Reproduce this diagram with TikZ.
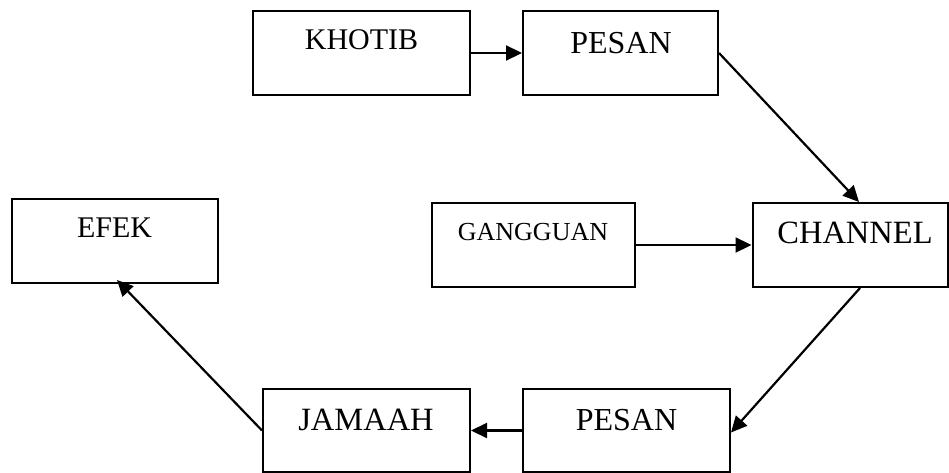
\documentclass[tikz,border=0pt]{standalone}
\usepackage{fontspec}
\setmainfont{Liberation Serif}
\usetikzlibrary{arrows.meta}
\begin{document}
\begin{tikzpicture}[x=1pt,y=-1pt,
  boxnode/.style={draw=black, line width=2pt, rectangle, inner sep=0pt},
  lbl/.style={inner sep=0pt, text=black},
  conn/.style={line width=2.2pt, -{Triangle[length=16pt,width=15pt]}}]
\useasboundingbox[fill=white] (0,0) rectangle (949,473);
% boxes
\node[boxnode, minimum width=217pt, minimum height=84pt] (khotib) at (361.5,53) {};
\node[boxnode, minimum width=195pt, minimum height=84pt] (pesan1) at (620.5,53) {};
\node[boxnode, minimum width=206pt, minimum height=84pt] (efek) at (115,241) {};
\node[boxnode, minimum width=203pt, minimum height=84pt] (gangguan) at (533.5,245) {};
\node[boxnode, minimum width=195pt, minimum height=84pt] (channel) at (850,245) {};
\node[boxnode, minimum width=207pt, minimum height=83pt] (jamaah) at (366.5,430.5) {};
\node[boxnode, minimum width=207pt, minimum height=83pt] (pesan2) at (626.5,430.5) {};
% labels
\node[lbl, font=\fontsize{30}{33}\selectfont] (khotibt) at (361.5,40) {KHOTIB};
\node[lbl, font=\fontsize{32}{35}\selectfont] (pesan1t) at (621,43) {PESAN};
\node[lbl, font=\fontsize{30}{33}\selectfont] (efekt) at (114.5,228) {EFEK};
\node[lbl, font=\fontsize{26}{29}\selectfont] (gangguant) at (533,232) {GANGGUAN};
\node[lbl, font=\fontsize{32.5}{35}\selectfont] (channelt) at (855,233) {CHANNEL};
\node[lbl, font=\fontsize{32.5}{35}\selectfont] (jamaaht) at (366,420) {JAMAAH};
\node[lbl, font=\fontsize{32}{35}\selectfont] (pesan2t) at (626.5,420) {PESAN};
% connectors
\draw[conn] (khotib.east) -- (pesan1.west);
\draw[conn] (pesan1.east) -- ([xshift=9pt]channel.north);
\draw[conn] (gangguan.east) -- (channel.west);
\draw[conn] ([xshift=10pt]channel.south) -- ([yshift=-2pt]pesan2.east);
\draw[conn] (pesan2.west) -- (jamaah.east);
\draw[conn] (jamaah.west) -- ([xshift=2pt,yshift=4pt]efek.south);
\end{tikzpicture}
\end{document}
